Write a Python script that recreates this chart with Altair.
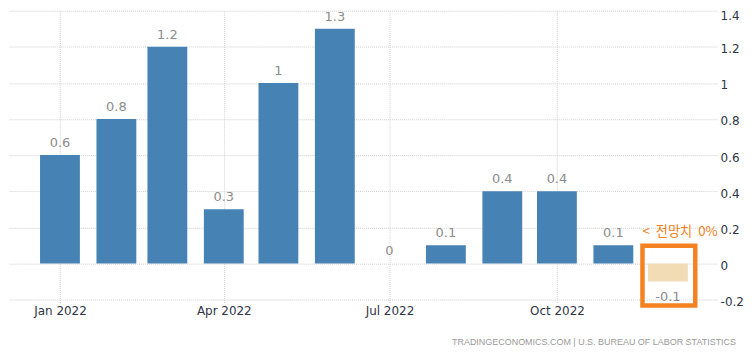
import altair as alt
import pandas as pd

months = ["2022-01-01", "2022-02-01", "2022-03-01", "2022-04-01", "2022-05-01", "2022-06-01",
          "2022-07-01", "2022-08-01", "2022-09-01", "2022-10-01", "2022-11-01", "2022-12-01"]
values = [0.6, 0.8, 1.2, 0.3, 1.0, 1.3, 0.0, 0.1, 0.4, 0.4, 0.1, -0.1]
kinds = ["actual"] * 11 + ["latest"]
labels = ["0.6", "0.8", "1.2", "0.3", "1", "1.3", "0", "0.1", "0.4", "0.4", "0.1", "-0.1"]
y_ticks = [-0.2, 0, 0.2, 0.4, 0.6, 0.8, 1, 1.2, 1.4]
x_tick_months = [1, 4, 7, 10]
note_text = "<\u00a0\u00a0전망치\u00a0\u00a00%"
source_text = "TRADINGECONOMICS.COM  |  U.S. BUREAU OF LABOR STATISTICS"

df = pd.DataFrame({"date": months, "value": values, "kind": kinds, "label": labels})

x_scale = alt.Scale(type="utc", padding=0,
                    domain=[alt.DateTime(year=2021, month=12, date=4, utc=True),
                            alt.DateTime(year=2022, month=12, date=28, utc=True)])
y_scale = alt.Scale(domain=[-0.2, 1.4], nice=False, zero=False, padding=0)

GRID = "#d0d0d0"
LABEL = "#2e3445"

x_enc = alt.X("date:T", scale=x_scale, title=None,
              axis=alt.Axis(values=[alt.DateTime(year=2022, month=m, date=1, utc=True) for m in x_tick_months],
                            format="%b %Y", labelFont="DejaVu Sans", labelFontSize=12,
                            labelColor=LABEL, grid=True, gridColor=GRID, gridDash=[1, 1],
                            tickColor=GRID, tickDash=[1, 1], tickSize=3, domain=False,
                            labelPadding=3, labelOverlap=False))
y_axis = alt.Axis(orient="right", values=y_ticks, labelExpr="toString(datum.value)",
                  labelFont="DejaVu Sans", labelFontSize=12, labelColor=LABEL,
                  grid=True, gridColor=GRID, gridDash=[1, 1], ticks=False,
                  domain=False, labelPadding=3, labelOverlap=False,
                  labelOffset={"condition": {"test": "datum.value >= 1.4", "value": 5}, "value": 2})
y_enc = alt.Y("value:Q", scale=y_scale, title=None, axis=y_axis)

base = alt.Chart(df)

bars = base.mark_bar(size=40).encode(
    x=x_enc, y=y_enc, y2=alt.datum(0),
    color=alt.Color("kind:N", legend=None,
                    scale=alt.Scale(domain=["actual", "latest"], range=["#4682b4", "#f2dcb5"])),
)

pos_labels = base.transform_filter("datum.value >= 0").mark_text(
    baseline="alphabetic", dy=-8, font="DejaVu Sans", fontSize=13, color="#8c8c8c"
).encode(x=x_enc, y=y_enc, text="label:N")

neg_labels = base.transform_filter("datum.value < 0").mark_text(
    baseline="alphabetic", dy=20, font="DejaVu Sans", fontSize=13, color="#8c8c8c"
).encode(x=x_enc, y=y_enc, text="label:N")

box_df = pd.DataFrame({"date": ["2022-11-17T00:00:00Z"], "date2": ["2022-12-16T00:00:00Z"],
                       "value": [0.098], "value2": [-0.233]})
box = alt.Chart(box_df).mark_rect(filled=False, stroke="#f58220", strokeWidth=4.5, clip=False).encode(
    x=x_enc, x2="date2:T", y=y_enc, y2="value2:Q")

note_df = pd.DataFrame({"date": ["2022-11-17T00:00:00Z"], "value": [0.175], "t": [note_text]})
note = alt.Chart(note_df).mark_text(align="left", baseline="middle", font="Noto Sans CJK KR",
                                    fontSize=13.3, color="#f58220").encode(
    x=x_enc, y=y_enc, text="t:N")

src_df = pd.DataFrame({"t": [source_text]})
src = alt.Chart(src_df).mark_text(align="right", baseline="middle", font="Liberation Sans",
                                  fontSize=9, color="#9a9a9a").encode(
    x=alt.value(730), y=alt.value(333), text="t:N")

chart = alt.layer(bars, pos_labels, neg_labels, box, note, src).properties(
    width=711, height=290,
    autosize=alt.AutoSizeParams(type="none"),
    padding={"left": 1, "top": 2, "right": 27, "bottom": 49},
).configure_view(stroke=None).configure_axisY(labelOverlap=False)

chart.save("out.html", embed_options={"renderer": "svg", "actions": False})
